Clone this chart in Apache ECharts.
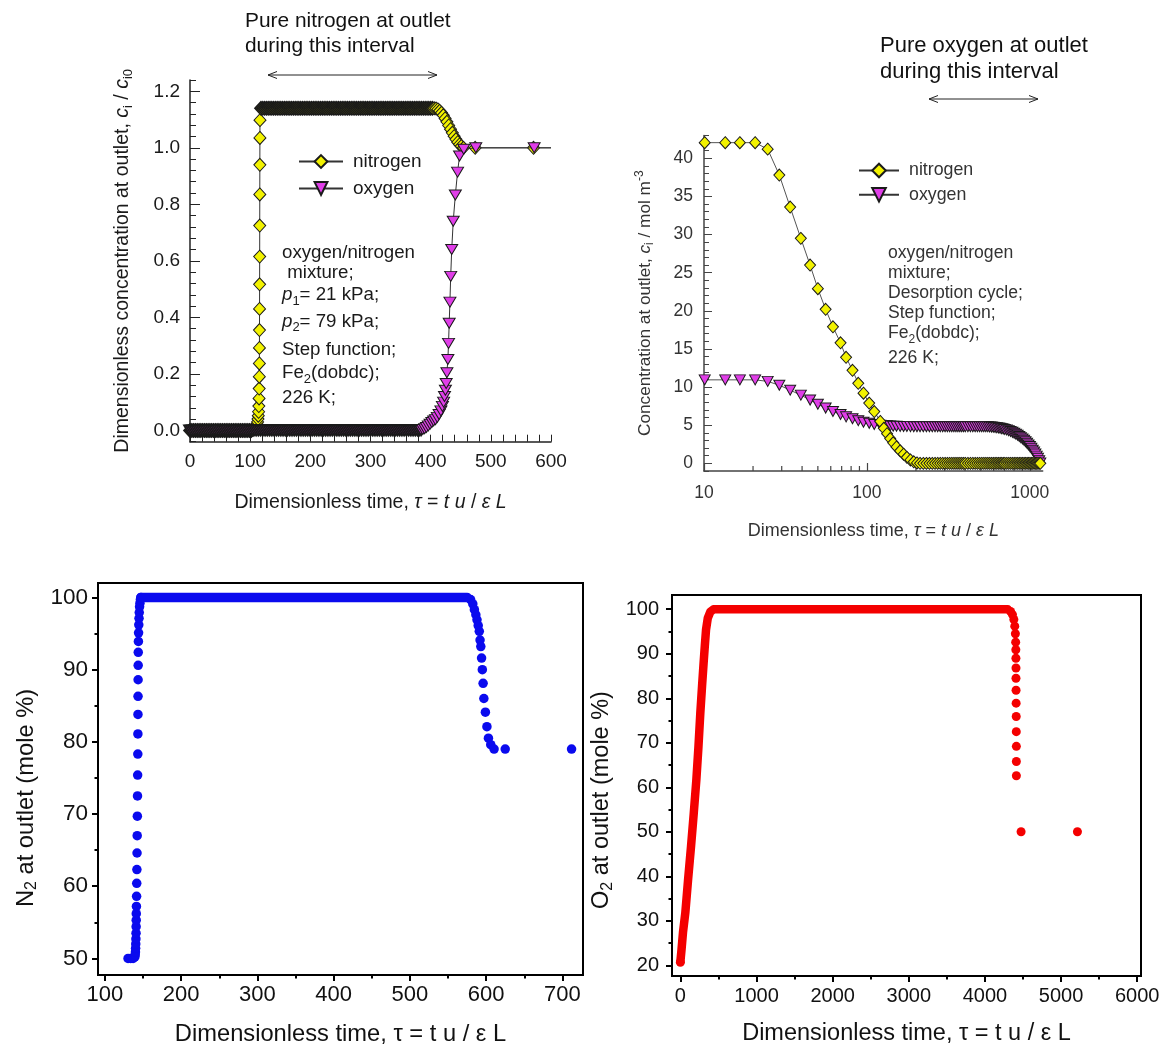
<!DOCTYPE html>
<html><head><meta charset="utf-8">
<script src="https://cdn.jsdelivr.net/npm/echarts@6/dist/echarts.min.js"></script>
<style>html,body{margin:0;padding:0;background:#fff}#c{width:1159px;height:1057px}</style>
</head><body><div id="c"></div>
<script>
const FONT = '"Liberation Sans", Arial, Helvetica, sans-serif';

// ---------- Panel 1 (top-left): adsorption breakthrough, dimensionless concentration ----------
const p1N2BaseTau = [0,3,6,9,12,15,18,21,24,27,30,33,36,39,42,45,48,51,54,57,60,63,66,69,72,75,78,81,84,87,90,93,96,99,102];
const p1N2BaseLevel = 0;
const p1N2Rise = [[104,0.002],[106,0.004],[108,0.007],[109.5,0.011],[110.5,0.016],[111.5,0.022],[112.3,0.03],[113,0.04],[113.5,0.052],[114,0.066],[114.4,0.086],[114.8,0.113],[115,0.148],[115.2,0.19],[115.3,0.237],[115.4,0.292],[115.5,0.355],[115.6,0.43],[115.7,0.517],[115.8,0.615],[115.9,0.725],[116,0.835],[116.1,0.94],[116.2,1.035],[116.3,1.098]];
const p1N2PlateauTau = [118,121,124,127,130,133,136,139,142,145,148,151,154,157,160,163,166,169,172,175,178,181,184,187,190,193,196,199,202,205,208,211,214,217,220,223,226,229,232,235,238,241,244,247,250,253,256,259,262,265,268,271,274,277,280,283,286,289,292,295,298,301,304,307,310,313,316,319,322,325,328,331,334,337,340,343,346,349,352,355,358,361,364,367,370,373,376,379,382,385,388,391,394,397,400,403];
const p1N2PlateauLevel = 1.14;
const p1N2Fall = [[406,1.14],[409,1.139],[412,1.136],[415,1.131],[418,1.124],[421,1.115],[424,1.104],[427,1.092],[430,1.079],[433,1.066],[436,1.053],[439,1.041],[442,1.03],[445,1.02],[448,1.012],[451,1.006],[454.6,1.0],[474,1.0],[571,1.0]];
const p1LineEnd = [600, 1.0];
const p1O2BaseTau = [0,3,6,9,12,15,18,21,24,27,30,33,36,39,42,45,48,51,54,57,60,63,66,69,72,75,78,81,84,87,90,93,96,99,102,105,108,111,114,117,120,123,126,129,132,135,138,141,144,147,150,153,156,159,162,165,168,171,174,177,180,183,186,189,192,195,198,201,204,207,210,213,216,219,222,225,228,231,234,237,240,243,246,249,252,255,258,261,264,267,270,273,276,279,282,285,288,291,294,297,300,303,306,309,312,315,318,321,324,327,330,333,336,339,342,345,348,351,354,357,360,363,366,369,372,375,378,381,384];
const p1O2BaseLevel = 0;
const p1O2Rise = [[387,0.003],[390,0.006],[393,0.01],[396,0.016],[399,0.022],[402,0.028],[405,0.033],[408,0.038],[411,0.046],[414,0.056],[417,0.069],[419.5,0.085],[421.5,0.1],[423,0.12],[424.5,0.142],[425.8,0.166],[427,0.204],[428.6,0.251],[429.7,0.308],[430.8,0.379],[432,0.454],[433.3,0.545],[435,0.64],[437.5,0.74],[441,0.833],[444.7,0.914],[448,0.971],[455,0.995],[475,1.0],[572,1.0]];

// ---------- Panel 2 (top-right): desorption, concentration vs log time ----------
const p2Tau = [10.1,13.5,16.6,20.6,24.6,29.0,33.8,39.3,44.8,50.0,55.8,61.9,68.9,74.5,81.6,88.5,95.3,103.3,111,120.8,127,133,139,145,152,160,168,176,185,194,203,212,
  222,232,242,252,262,272,282,292,302,312,322,332,342,352,362,372,382,392,402,
  417,432,447,462,477,492,507,522,537,552,567,582,597,612,627,642,657,672,687,702,
  722,742,762,782,802,822,842,862,882,902,922,942,962,982,1002,1022,1042,1062,1082,1102,1122,1142,1160];
const p2N2 = [42.05,42.05,42.05,42.05,41.2,37.8,33.6,29.5,26.0,22.9,20.2,17.9,15.8,13.9,12.2,10.5,9.2,7.9,6.8,5.5,4.6,3.9,3.25,2.7,2.15,1.65,1.2,0.8,0.45,0.2,0.05,0,
  0,0,0,0,0,0,0,0,0,0,0,0,0,0,0,0,0,0,0,
  0,0,0,0,0,0,0,0,0,0,0,0,0,0,0,0,0,0,0,0,
  0,0,0,0,0,0,0,0,0,0,0,0,0,0,0,0,0,0,0,0,0,0,0];
const p2O2 = [10.95,10.95,10.95,10.95,10.75,10.25,9.6,8.95,8.3,7.75,7.25,6.8,6.4,6.1,5.85,5.6,5.4,5.25,5.1,5.0,4.95,4.92,4.9,4.88,4.86,4.85,4.84,4.83,4.82,4.81,4.8,4.8,
  4.8,4.8,4.8,4.8,4.8,4.8,4.8,4.8,4.8,4.8,4.8,4.8,4.8,4.8,4.8,4.8,4.8,4.8,4.8,
  4.8,4.8,4.8,4.8,4.8,4.8,4.8,4.8,4.8,4.8,4.78,4.76,4.74,4.71,4.68,4.64,4.6,4.55,4.5,4.45,
  4.37,4.28,4.18,4.07,3.95,3.82,3.68,3.53,3.37,3.2,3.02,2.83,2.63,2.42,2.2,1.97,1.73,1.48,1.22,0.95,0.66,0.35,0.05];
const p2MinorTicks = [20,30,40,50,60,70,80,90,200,300,400,500,600,700,800,900];

// ---------- Panel 3 (bottom-left): N2 mole % at outlet ----------
const p3Rise = [[130.4,50],[134,50],[137,50],[139.3,50.2],[139.8,50.5],[140.1,50.9],[140.3,51.4],[140.5,52],[140.7,52.7],[140.9,53.5],[141,54.4],[141.1,55.3],[141.2,56.2],[141.4,57.2],[141.6,58.6],[141.8,60.4],[142,62.3],[142.2,64.6],[142.4,67.0],[142.6,69.7],[142.8,72.5],[143,75.4],[143.2,78.3],[143.3,81.1],[143.4,83.8],[143.5,86.3],[143.6,88.6],[143.7,90.6],[143.8,92.4],[144,93.9],[144.2,95.1],[144.5,96.2],[144.8,97.1],[145.1,97.9],[145.5,98.7],[146,99.2],[146.6,99.7],[147.3,100]];
const p3Plateau = [[147.3,100],[575,100]];
const p3Fall = [[579.6,99.7],[582.5,99.1],[584.6,98.3],[586.5,97.6],[588,96.9],[589.6,96.1],[591,95.3],[592,94.1],[593,93.2],[594,91.6],[595,90.0],[596,88.1],[597,86.0],[599,84.1],[601,82.1],[603,80.5],[606,79.6],[610.4,79.0],[625,79.0],[712,79.0]];
const p3XLabels = [100,200,300,400,500,600,700];
const p3XMinor = [150,250,350,450,550,650];
const p3YLabels = [50,60,70,80,90,100];
const p3YMinor = [55,65,75,85,95];

// ---------- Panel 4 (bottom-right): O2 mole % at outlet ----------
const p4RiseAndPlateau = [[0,20.8],[15,23.5],[35,27.5],[65,31.8],[100,39],[140,46.7],[175,54],[210,61.7],[237,69],[262,76.7],[285,82.8],[305,87.9],[322,92],[337,95.4],[360,98],[393,99.4],[436,100],[4300,100]];
const p4Fall = [[0,20.7],[4337,99.5],[4362,98.8],[4380,97.7],[4392,96.2],[4400,94.5],[4404,92.6],[4406,90.9],[4407,89.0],[4408,86.8],[4408,84.5],[4409,81.8],[4410,78.9],[4411,75.9],[4412,72.5],[4413,69.2],[4413,65.8],[4413,62.6],[4475,50],[5215,50]];
const p4XLabels = [0,1000,2000,3000,4000,5000,6000];
const p4XMinor = [500,1500,2500,3500,4500,5500];
const p4YLabels = [20,30,40,50,60,70,80,90,100];
const p4YMinor = [25,35,45,55,65,75,85,95];

const p1YMajor = [0,0.2,0.4,0.6,0.8,1.0,1.2];
const p2YMajor = [0,5,10,15,20,25,30,35,40];

// ---------- helpers that build tables from the arrays ----------
const bandItem = {borderWidth: 1.7};
const atLevel = (taus, lvl, st) => taus.map(t => (st ? {value: [t, lvl], itemStyle: st} : [t, lvl]));
const zip = (xs, ys) => xs.map((x, i) => [x, ys[i]]);
const plain = v => String(v);

const YEL = '#f2f200', MAG = '#e03ee8', EDGE = '#1a1a1a';
const BLUE = '#0a0aee', RED = '#f40000';

const p1N2Data = [].concat(atLevel(p1N2BaseTau, p1N2BaseLevel, bandItem), p1N2Rise, atLevel(p1N2PlateauTau, p1N2PlateauLevel, bandItem), p1N2Fall, [{value: p1LineEnd, symbol: 'none'}]);
const p1O2Data = [].concat(atLevel(p1O2BaseTau, p1O2BaseLevel, bandItem), p1O2Rise, [{value: p1LineEnd, symbol: 'none'}]);

const richSub = (fs) => ({
  i: {fontStyle: 'italic', fontSize: fs, fontFamily: FONT},
  sub: {fontSize: Math.round(fs * 0.68), verticalAlign: 'bottom', lineHeight: Math.round(fs * 0.68), fontFamily: FONT},
  sup: {fontSize: Math.round(fs * 0.68), verticalAlign: 'top', lineHeight: Math.round(fs * 0.68), fontFamily: FONT}
});

function nameStyle(fs, color, lh, pad) {
  const s = {fontSize: fs, color: color, fontFamily: FONT, lineHeight: lh, rich: richSub(fs)};
  if (pad) s.padding = pad;
  return s;
}

const noSplit = {show: false};

const xAxes = [
  // 0 panel1
  {gridIndex: 0, type: 'value', min: 0, max: 600, interval: 20,
   axisLine: {onZero: false, lineStyle: {color: '#222', width: 1.5}},
   axisTick: {inside: true, length: 7, lineStyle: {color: '#222', width: 1}},
   axisLabel: {margin: 11, fontSize: 19, color: '#1a1a1a', fontFamily: FONT, formatter: v => (Math.abs(v % 100) < 1e-6 ? String(v) : '')},
   splitLine: noSplit,
   name: 'Dimensionless time, {i|τ} = {i|t u} / {i|ε L}', nameLocation: 'middle', nameGap: 48, nameMoveOverlap: false,
   nameTextStyle: nameStyle(19.5, '#1a1a1a', 25)},
  // 1 panel2 (log)
  {gridIndex: 1, type: 'log', logBase: 10, min: 10, max: 1200,
   axisLine: {onZero: false, lineStyle: {color: '#444', width: 1.5}},
   axisTick: {inside: true, length: 8, lineStyle: {color: '#444', width: 1.2}},
   axisLabel: {margin: 13, fontSize: 17.5, color: '#333', fontFamily: FONT, formatter: plain},
   minorTick: {show: false}, splitLine: noSplit,
   name: 'Dimensionless time, {i|τ} = {i|t u} / {i|ε L}', nameLocation: 'middle', nameGap: 49, nameMoveOverlap: false,
   nameTextStyle: nameStyle(18, '#333', 22)},
  // 2 panel3 main
  {gridIndex: 2, type: 'value', min: 91, max: 727, position: 'bottom',
   axisLine: {onZero: false, lineStyle: {color: '#000', width: 2}},
   axisTick: {customValues: p3XLabels, length: 6, lineStyle: {color: '#000', width: 2}},
   axisLabel: {customValues: p3XLabels, margin: 9, fontSize: 22, color: '#111', fontFamily: FONT, formatter: plain},
   splitLine: noSplit,
   name: 'Dimensionless time, τ = t u / ε L', nameLocation: 'middle', nameGap: 45, nameMoveOverlap: false,
   nameTextStyle: nameStyle(23.7, '#111', 28)},
  // 3 panel3 minor
  {gridIndex: 2, type: 'value', min: 91, max: 727, position: 'bottom',
   axisLine: {show: false, onZero: false}, axisLabel: {show: false},
   axisTick: {customValues: p3XMinor, length: 3.5, lineStyle: {color: '#000', width: 2}}, splitLine: noSplit},
  // 4 panel4 main
  {gridIndex: 3, type: 'value', min: -110, max: 6050, position: 'bottom',
   axisLine: {onZero: false, lineStyle: {color: '#000', width: 2}},
   axisTick: {customValues: p4XLabels, length: 6, lineStyle: {color: '#000', width: 2}},
   axisLabel: {customValues: p4XLabels, margin: 10, fontSize: 20, color: '#111', fontFamily: FONT, formatter: plain},
   splitLine: noSplit,
   name: 'Dimensionless time, τ = t u / ε L', nameLocation: 'middle', nameGap: 44, nameMoveOverlap: false,
   nameTextStyle: nameStyle(23.5, '#111', 28)},
  // 5 panel4 minor
  {gridIndex: 3, type: 'value', min: -110, max: 6050, position: 'bottom',
   axisLine: {show: false, onZero: false}, axisLabel: {show: false},
   axisTick: {customValues: p4XMinor, length: 3.5, lineStyle: {color: '#000', width: 2}}, splitLine: noSplit}
];

const yAxes = [
  // 0 panel1 main (minor ticks + labels)
  {gridIndex: 0, type: 'value', min: -0.04, max: 1.24, interval: 0.04, position: 'left',
   axisLine: {onZero: false, lineStyle: {color: '#222', width: 1.5}},
   axisTick: {inside: true, length: 6, lineStyle: {color: '#222', width: 1}},
   axisLabel: {margin: 10, fontSize: 19, color: '#1a1a1a', fontFamily: FONT,
     formatter: v => { const r = Math.round(v * 5); return Math.abs(v * 5 - r) < 1e-6 ? (r / 5).toFixed(1) : ''; }},
   splitLine: noSplit,
   name: 'Dimensionless concentration at outlet, {i|c}{sub|i} / {i|c}{sub|i0}', nameLocation: 'middle', nameGap: 55, nameMoveOverlap: false,
   nameTextStyle: nameStyle(19.5, '#1a1a1a', 25)},
  // 1 panel1 major ticks
  {gridIndex: 0, type: 'value', min: -0.04, max: 1.24, position: 'left',
   axisLine: {show: false, onZero: false}, axisLabel: {show: false},
   axisTick: {inside: true, customValues: p1YMajor, length: 10, lineStyle: {color: '#222', width: 1}}, splitLine: noSplit},
  // 2 panel2 main
  {gridIndex: 1, type: 'value', min: -1, max: 43, interval: 1, position: 'left',
   axisLine: {onZero: false, lineStyle: {color: '#444', width: 1.5}},
   axisTick: {inside: true, length: 5, lineStyle: {color: '#444', width: 1}},
   axisLabel: {margin: 11, fontSize: 17.5, color: '#333', fontFamily: FONT, formatter: v => (v % 5 === 0 ? String(v) : '')},
   splitLine: noSplit,
   name: 'Concentration at outlet, {i|c}{sub|i} / mol m{sup|-3}', nameLocation: 'middle', nameGap: 48, nameMoveOverlap: false,
   nameTextStyle: nameStyle(17.2, '#333', 22)},
  // 3 panel2 major ticks
  {gridIndex: 1, type: 'value', min: -1, max: 43, position: 'left',
   axisLine: {show: false, onZero: false}, axisLabel: {show: false},
   axisTick: {inside: true, customValues: p2YMajor, length: 8, lineStyle: {color: '#444', width: 1}}, splitLine: noSplit},
  // 4 panel3 main
  {gridIndex: 2, type: 'value', min: 47.7, max: 102, position: 'left',
   axisLine: {onZero: false, lineStyle: {color: '#000', width: 2}},
   axisTick: {customValues: p3YLabels, length: 6, lineStyle: {color: '#000', width: 2}},
   axisLabel: {customValues: p3YLabels, margin: 10, fontSize: 22.5, color: '#111', fontFamily: FONT, formatter: plain},
   splitLine: noSplit,
   name: 'N{sub|2} at outlet (mole %)', nameLocation: 'middle', nameGap: 58, nameMoveOverlap: false,
   nameTextStyle: nameStyle(23.7, '#111', 28, [0, 38, 0, 0])},
  // 5 panel3 minor
  {gridIndex: 2, type: 'value', min: 47.7, max: 102, position: 'left',
   axisLine: {show: false, onZero: false}, axisLabel: {show: false},
   axisTick: {customValues: p3YMinor, length: 3.5, lineStyle: {color: '#000', width: 2}}, splitLine: noSplit},
  // 6 panel4 main
  {gridIndex: 3, type: 'value', min: 17.6, max: 103.2, position: 'left',
   axisLine: {onZero: false, lineStyle: {color: '#000', width: 2}},
   axisTick: {customValues: p4YLabels, length: 6, lineStyle: {color: '#000', width: 2}},
   axisLabel: {customValues: p4YLabels, margin: 13, fontSize: 20, color: '#111', fontFamily: FONT, formatter: plain},
   splitLine: noSplit,
   name: 'O{sub|2} at outlet (mole %)', nameLocation: 'middle', nameGap: 56, nameMoveOverlap: false,
   nameTextStyle: nameStyle(23.5, '#111', 28, [0, 29, 0, 0])},
  // 7 panel4 minor
  {gridIndex: 3, type: 'value', min: 17.6, max: 103.2, position: 'left',
   axisLine: {show: false, onZero: false}, axisLabel: {show: false},
   axisTick: {customValues: p4YMinor, length: 3.5, lineStyle: {color: '#000', width: 2}}, splitLine: noSplit}
];

const grids = [
  {left: 190, top: 80, width: 361, height: 361.7, outerBoundsMode: 'none'},
  {left: 704, top: 135.4, width: 338.7, height: 335.6, outerBoundsMode: 'none'},
  {left: 98, top: 583, width: 485, height: 392, show: true, borderColor: '#000', borderWidth: 2, backgroundColor: 'transparent', outerBoundsMode: 'none'},
  {left: 672, top: 595, width: 469, height: 381, show: true, borderColor: '#000', borderWidth: 2, backgroundColor: 'transparent', outerBoundsMode: 'none'}
];

const n2Style = {color: YEL, borderColor: EDGE, borderWidth: 1};
const o2Style = {color: MAG, borderColor: EDGE, borderWidth: 1};

const series = [
  {name: 'nitrogen', type: 'line', xAxisIndex: 0, yAxisIndex: 0, data: p1N2Data, symbol: 'diamond', symbolSize: [12, 13],
   itemStyle: n2Style, lineStyle: {color: '#333', width: 1}, clip: false, z: 3},
  {name: 'oxygen', type: 'line', xAxisIndex: 0, yAxisIndex: 0, data: p1O2Data, symbol: 'triangle', symbolRotate: 180, symbolSize: [12, 10],
   itemStyle: o2Style, lineStyle: {color: '#333', width: 1}, clip: false, z: 4},
  {name: 'oxygen', type: 'line', xAxisIndex: 1, yAxisIndex: 2, data: zip(p2Tau, p2O2), symbol: 'triangle', symbolRotate: 180, symbolSize: [11, 10],
   itemStyle: o2Style, lineStyle: {color: '#555', width: 1}, clip: false, z: 3},
  {name: 'nitrogen', type: 'line', xAxisIndex: 1, yAxisIndex: 2, data: zip(p2Tau, p2N2), symbol: 'diamond', symbolSize: [11, 12],
   itemStyle: n2Style, lineStyle: {color: '#555', width: 1}, clip: false, z: 4},
  {name: 'minorTicks', type: 'scatter', xAxisIndex: 1, yAxisIndex: 2, data: p2MinorTicks.map(v => [v, -1]), symbol: 'rect',
   symbolSize: [1.2, 5], symbolOffset: [0, -2.5], itemStyle: {color: '#444', opacity: 1}, silent: true, clip: false, z: 2},
  {name: 'N2 dense', type: 'line', xAxisIndex: 2, yAxisIndex: 4, data: p3Plateau, symbol: 'none',
   lineStyle: {color: BLUE, width: 9.5, cap: 'round', join: 'round', opacity: 1}, clip: false},
  {name: 'N2', type: 'scatter', xAxisIndex: 2, yAxisIndex: 4, data: [].concat(p3Rise, p3Fall), symbolSize: 9.5,
   itemStyle: {color: BLUE, opacity: 1}, clip: false},
  {name: 'O2 dense', type: 'line', xAxisIndex: 4, yAxisIndex: 6, data: p4RiseAndPlateau, symbol: 'none',
   lineStyle: {color: RED, width: 8.5, cap: 'round', join: 'round', opacity: 1}, clip: false},
  {name: 'O2', type: 'scatter', xAxisIndex: 4, yAxisIndex: 6, data: p4Fall, symbolSize: 9,
   itemStyle: {color: RED, opacity: 1}, clip: false}
];

const legendText = (fs, c) => ({fontSize: fs, color: c, fontFamily: FONT, padding: [0, 0, 0, 5]});
const legends = [
  {data: ['nitrogen', 'oxygen'], orient: 'vertical', left: 298, top: 152, itemWidth: 44, itemHeight: 16, itemGap: 8,
   padding: 0, selectedMode: false, textStyle: legendText(19, '#1a1a1a')},
  {data: ['nitrogen', 'oxygen'], orient: 'vertical', left: 858, top: 161.5, itemWidth: 40, itemHeight: 17, itemGap: 6.3,
   padding: 0, selectedMode: false, textStyle: legendText(17.8, '#333')}
];

// ---------- annotations ----------
const notes = [
  {t: 'Pure nitrogen at outlet', x: 245, y: 21, fs: 20.9, c: '#111'},
  {t: 'during this interval', x: 245, y: 46, fs: 20.9, c: '#111'},
  {t: 'Pure oxygen at outlet', x: 880, y: 46, fs: 22, c: '#111'},
  {t: 'during this interval', x: 880, y: 72, fs: 22, c: '#111'},
  {t: 'oxygen/nitrogen', x: 282, y: 252.7, fs: 18.7, c: '#1a1a1a'},
  {t: ' mixture;', x: 282, y: 273.3, fs: 18.7, c: '#1a1a1a'},
  {t: '{i|p}{sub|1}= 21 kPa;', x: 282, y: 295, fs: 18.7, c: '#1a1a1a'},
  {t: '{i|p}{sub|2}= 79 kPa;', x: 282, y: 321.7, fs: 18.7, c: '#1a1a1a'},
  {t: 'Step function;', x: 282, y: 350, fs: 18.7, c: '#1a1a1a'},
  {t: 'Fe{sub|2}(dobdc);', x: 282, y: 373.3, fs: 18.7, c: '#1a1a1a'},
  {t: '226 K;', x: 282, y: 398.3, fs: 18.7, c: '#1a1a1a'},
  {t: 'oxygen/nitrogen', x: 888, y: 252.7, fs: 17.6, c: '#333'},
  {t: 'mixture;', x: 888, y: 272.7, fs: 17.6, c: '#333'},
  {t: 'Desorption cycle;', x: 888, y: 292.7, fs: 17.6, c: '#333'},
  {t: 'Step function;', x: 888, y: 312.7, fs: 17.6, c: '#333'},
  {t: 'Fe{sub|2}(dobdc);', x: 888, y: 333.3, fs: 17.6, c: '#333'},
  {t: '226 K;', x: 888, y: 358.3, fs: 17.6, c: '#333'}
];
const arrows = [{x1: 268, x2: 437, y: 75}, {x1: 929, x2: 1038, y: 99}];

const graphic = [];
notes.forEach(n => graphic.push({
  type: 'text', silent: true, z: 100,
  style: {text: n.t, x: n.x, y: n.y, fill: n.c, fontSize: n.fs, fontFamily: FONT,
    verticalAlign: 'middle', textVerticalAlign: 'middle', align: 'left', lineHeight: Math.round(n.fs * 1.35),
    rich: richSub(n.fs)}
}));
arrows.forEach(a => {
  const st = {stroke: '#222', lineWidth: 1, fill: 'none'};
  graphic.push({type: 'line', silent: true, shape: {x1: a.x1, y1: a.y, x2: a.x2, y2: a.y}, style: st});
  graphic.push({type: 'polyline', silent: true, shape: {points: [[a.x1 + 9, a.y - 3.5], [a.x1, a.y], [a.x1 + 9, a.y + 3.5]]}, style: st});
  graphic.push({type: 'polyline', silent: true, shape: {points: [[a.x2 - 9, a.y - 3.5], [a.x2, a.y], [a.x2 - 9, a.y + 3.5]]}, style: st});
});

const chart = echarts.init(document.getElementById('c'), null, {renderer: 'canvas'});
chart.setOption({
  animation: false,
  backgroundColor: '#fff',
  textStyle: {fontFamily: FONT},
  grid: grids,
  xAxis: xAxes,
  yAxis: yAxes,
  legend: legends,
  series: series,
  graphic: graphic
});
</script></body></html>
